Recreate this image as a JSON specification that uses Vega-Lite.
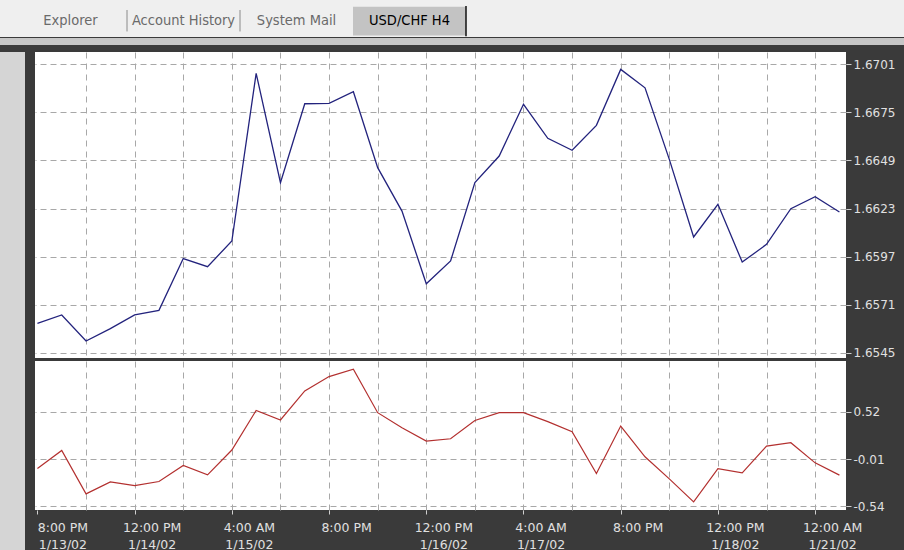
{
  "$schema": "https://vega.github.io/schema/vega-lite/v6.json",
  "padding": 0,
  "background": "#3a3a3a",
  "config": {
    "view": {"stroke": null},
    "axis": {"labelFont": "DejaVu Sans", "titleFont": "DejaVu Sans"}
  },
  "datasets": {
    "tabs": [
      {"tab": "Explorer"},
      {"tab": "Account History"},
      {"tab": "System Mail"},
      {"tab": "USD/CHF H4"}
    ],
    "bars": [
      {"i": 0, "time": "2002-01-13 20:00", "price": 1.65609, "osc": -0.116},
      {"i": 1, "time": "2002-01-14 00:00", "price": 1.65654, "osc": 0.087},
      {"i": 2, "time": "2002-01-14 04:00", "price": 1.65513, "osc": -0.401},
      {"i": 3, "time": "2002-01-14 08:00", "price": 1.6558, "osc": -0.266},
      {"i": 4, "time": "2002-01-14 12:00", "price": 1.65654, "osc": -0.307},
      {"i": 5, "time": "2002-01-14 16:00", "price": 1.65679, "osc": -0.262},
      {"i": 6, "time": "2002-01-14 20:00", "price": 1.65959, "osc": -0.082},
      {"i": 7, "time": "2002-01-15 00:00", "price": 1.65915, "osc": -0.187},
      {"i": 8, "time": "2002-01-15 04:00", "price": 1.66054, "osc": 0.092},
      {"i": 9, "time": "2002-01-15 08:00", "price": 1.66961, "osc": 0.538},
      {"i": 10, "time": "2002-01-15 12:00", "price": 1.6637, "osc": 0.43},
      {"i": 11, "time": "2002-01-15 16:00", "price": 1.66797, "osc": 0.757},
      {"i": 12, "time": "2002-01-15 20:00", "price": 1.66799, "osc": 0.918},
      {"i": 13, "time": "2002-01-16 00:00", "price": 1.66862, "osc": 1.0},
      {"i": 14, "time": "2002-01-16 04:00", "price": 1.66451, "osc": 0.512},
      {"i": 15, "time": "2002-01-16 08:00", "price": 1.66216, "osc": 0.343},
      {"i": 16, "time": "2002-01-16 12:00", "price": 1.65823, "osc": 0.193},
      {"i": 17, "time": "2002-01-16 16:00", "price": 1.65946, "osc": 0.219},
      {"i": 18, "time": "2002-01-16 20:00", "price": 1.6637, "osc": 0.425},
      {"i": 19, "time": "2002-01-17 00:00", "price": 1.66514, "osc": 0.512},
      {"i": 20, "time": "2002-01-17 04:00", "price": 1.66794, "osc": 0.512},
      {"i": 21, "time": "2002-01-17 08:00", "price": 1.6661, "osc": 0.411},
      {"i": 22, "time": "2002-01-17 12:00", "price": 1.66545, "osc": 0.298},
      {"i": 23, "time": "2002-01-17 16:00", "price": 1.6668, "osc": -0.172},
      {"i": 24, "time": "2002-01-17 20:00", "price": 1.66983, "osc": 0.362},
      {"i": 25, "time": "2002-01-18 00:00", "price": 1.66883, "osc": 0.016},
      {"i": 26, "time": "2002-01-18 04:00", "price": 1.66496, "osc": -0.232},
      {"i": 27, "time": "2002-01-18 08:00", "price": 1.66076, "osc": -0.491},
      {"i": 28, "time": "2002-01-18 12:00", "price": 1.66253, "osc": -0.116},
      {"i": 29, "time": "2002-01-18 16:00", "price": 1.6594, "osc": -0.164},
      {"i": 30, "time": "2002-01-18 20:00", "price": 1.66036, "osc": 0.137},
      {"i": 31, "time": "2002-01-20 20:00", "price": 1.66229, "osc": 0.174},
      {"i": 32, "time": "2002-01-21 00:00", "price": 1.66294, "osc": -0.052},
      {"i": 33, "time": "2002-01-21 04:00", "price": 1.66211, "osc": -0.19}
    ]
  },
  "spacing": 7,
  "vconcat": [
    {
      "spacing": 0,
      "vconcat": [
        {
          "width": 904,
          "height": 37,
          "view": {"fill": "#efefef", "stroke": null},
          "data": {"name": "tabs"},
          "layer": [
            {
              "transform": [{"filter": "datum.tab === 'USD/CHF H4'"}],
              "mark": {"type": "rect", "color": "#c3c3c3"},
              "encoding": {
                "x": {
                  "field": "tab", "type": "nominal",
                  "scale": {"type": "band", "domain": ["Explorer", "Account History", "System Mail", "USD/CHF H4"], "range": [14, 466], "paddingInner": 0, "paddingOuter": 0},
                  "axis": null
                },
                "y": {"datum": 0.18, "type": "quantitative", "scale": {"domain": [0, 1], "reverse": true}, "axis": null},
                "y2": {"datum": 0.96}
              }
            },
            {
              "transform": [{"filter": "datum.tab === 'Explorer' || datum.tab === 'Account History'"}],
              "mark": {"type": "rule", "color": "#8a8a8a", "strokeWidth": 1},
              "encoding": {
                "x": {"field": "tab", "type": "nominal", "bandPosition": 1, "axis": null},
                "y": {"datum": 0.27, "type": "quantitative", "scale": {"domain": [0, 1], "reverse": true}, "axis": null},
                "y2": {"datum": 0.85}
              }
            },
            {
              "transform": [{"filter": "datum.tab === 'USD/CHF H4'"}],
              "mark": {"type": "rule", "color": "#111111", "strokeWidth": 1.5},
              "encoding": {
                "x": {"field": "tab", "type": "nominal", "bandPosition": 1, "axis": null},
                "y": {"datum": 0.16, "type": "quantitative", "scale": {"domain": [0, 1], "reverse": true}, "axis": null},
                "y2": {"datum": 0.98}
              }
            },
            {
              "mark": {"type": "text", "font": "DejaVu Sans Condensed", "fontSize": 14.5, "baseline": "middle", "align": "center"},
              "encoding": {
                "x": {"field": "tab", "type": "nominal", "axis": null},
                "y": {"datum": 0.57, "type": "quantitative", "scale": {"domain": [0, 1], "reverse": true}, "axis": null},
                "text": {"field": "tab"},
                "color": {"condition": {"test": "datum.tab === 'USD/CHF H4'", "value": "#000000"}, "value": "#6a6a6a"}
              }
            }
          ]
        },
        {
          "width": 904,
          "height": 7,
          "view": {"fill": "#c6c6c6", "stroke": null},
          "data": {"values": [{}]},
          "mark": {"type": "point", "opacity": 0}
        }
      ]
    },
    {
      "spacing": 9,
      "hconcat": [
        {
          "width": 25,
          "height": 499,
          "view": {"fill": "#d5d5d5", "stroke": null},
          "data": {"values": [{}]},
          "mark": {"type": "point", "opacity": 0}
        },
        {
          "spacing": 2,
          "vconcat": [
            {
              "width": 811,
              "height": 306,
              "view": {"fill": "#ffffff", "stroke": null},
              "data": {"name": "bars"},
              "mark": {"type": "line", "color": "#23237d", "strokeWidth": 1.3},
              "encoding": {
                "x": {
                  "field": "i", "type": "quantitative",
                  "scale": {"domain": [-0.1, 33.27], "nice": false, "zero": false},
                  "axis": {"values": [0, 2, 4, 6, 8, 10, 12, 14, 16, 18, 20, 22, 24, 26, 28, 30, 32], "labels": false, "ticks": false, "domain": false, "title": null, "grid": true, "gridColor": "#a8a8a8", "gridDash": [6, 5], "gridOpacity": {"condition": {"test": "datum.value === 0", "value": 0}, "value": 1}, "minExtent": 0, "maxExtent": 0}
                },
                "y": {
                  "field": "price", "type": "quantitative",
                  "scale": {"domain": [1.65421, 1.67077], "nice": false, "zero": false},
                  "axis": {"orient": "right", "values": [1.6545, 1.6571, 1.6597, 1.6623, 1.6649, 1.6675, 1.6701], "format": ".4f", "title": null, "domain": false, "grid": true, "gridColor": "#a8a8a8", "gridDash": [6, 4], "tickSize": 5, "tickColor": "#d0d0d0", "labelColor": "#e0e0e0", "labelFontSize": 12, "labelPadding": 2, "labelOverlap": false, "minExtent": 59, "maxExtent": 59}
                }
              }
            },
            {
              "width": 811,
              "height": 149,
              "view": {"fill": "#ffffff", "stroke": null},
              "data": {"name": "bars"},
              "mark": {"type": "line", "color": "#b3302f", "strokeWidth": 1.2},
              "encoding": {
                "x": {
                  "field": "i", "type": "quantitative",
                  "scale": {"domain": [-0.1, 33.27], "nice": false, "zero": false},
                  "axis": {
                    "orient": "bottom",
                    "values": [0, 2, 4, 6, 8, 10, 12, 14, 16, 18, 20, 22, 24, 26, 28, 30, 32],
                    "title": null, "domain": false,
                    "grid": true, "gridColor": "#a8a8a8", "gridDash": [6, 5],
                    "gridOpacity": {"condition": {"test": "datum.value === 0", "value": 0}, "value": 1},
                    "tickSize": 4, "tickColor": "#d0d0d0",
                    "tickOpacity": {"condition": {"test": "datum.value % 4 === 0", "value": 1}, "value": 0},
                    "labelExpr": "datum.value % 4 !== 0 ? '' : [['8:00 PM','1/13/02'],['12:00 PM','1/14/02'],['4:00 AM','1/15/02'],['8:00 PM'],['12:00 PM','1/16/02'],['4:00 AM','1/17/02'],['8:00 PM'],['12:00 PM','1/18/02'],['12:00 AM','1/21/02']][datum.value / 4]",
                    "labelColor": "#e0e0e0", "labelFontSize": 12.5, "labelLineHeight": 17, "labelPadding": 7,
                    "labelOffset": {"condition": {"test": "datum.value === 0", "value": 25}, "value": 17},
                    "labelFlush": false, "labelOverlap": false, "labelBound": false,
                    "minExtent": 42, "maxExtent": 42
                  }
                },
                "y": {
                  "field": "osc", "type": "quantitative",
                  "scale": {"domain": [-0.582, 1.093], "nice": false, "zero": false},
                  "axis": {"orient": "right", "values": [-0.54, -0.01, 0.52], "labelExpr": "replace(format(datum.value, '.2f'), '\u2212', '-')", "title": null, "domain": false, "grid": true, "gridColor": "#a8a8a8", "gridDash": [6, 4], "tickSize": 5, "tickColor": "#d0d0d0", "labelColor": "#e0e0e0", "labelFontSize": 12, "labelPadding": 2, "labelOverlap": false, "minExtent": 59, "maxExtent": 59}
                }
              }
            }
          ]
        }
      ]
    }
  ]
}
